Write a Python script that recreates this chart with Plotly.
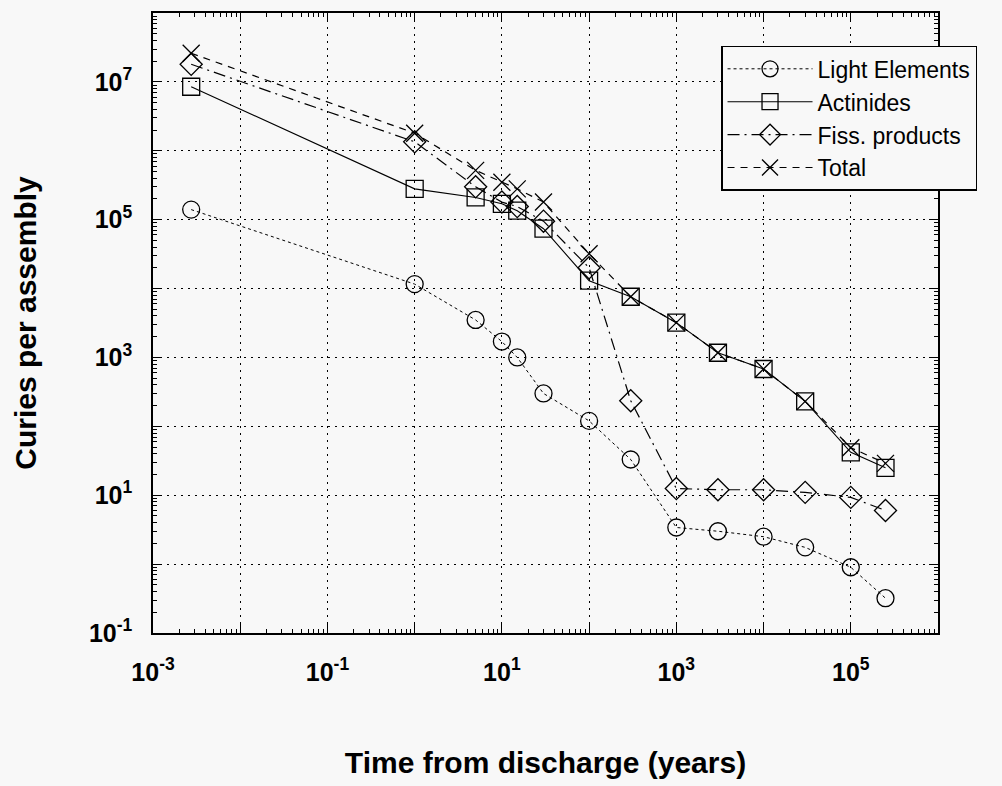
import plotly.graph_objects as go

# Time from discharge (years)
t_early = [0.00274, 1, 5, 10, 15, 30, 100]
t_late = [300, 1000, 3000, 1e4, 3e4, 1e5, 2.5e5]
time_years = t_early + t_late

light_elements = [1.4e5, 1.16e4, 3500, 1700, 1000, 300, 120,
                  33, 3.4, 3.0, 2.5, 1.75, 0.9, 0.32]
actinides = [8.5e6, 2.8e5, 2.1e5, 1.7e5, 1.35e5, 7.4e4, 1.3e4,
             7600, 3200, 1170, 680, 230, 42, 25]
fiss_products = [1.8e7, 1.35e6, 3.0e5, 1.8e5, 1.55e5, 9.5e4, 2.0e4,
                 235, 12.5, 12, 12, 11, 9.3, 6]
total = [2.6e7, 1.8e6, 5.2e5, 3.5e5, 2.8e5, 1.8e5, 3.2e4,
         7600, 3200, 1170, 680, 230, 49, 29]

x_tickvals = [1e-3, 1e-2, 1e-1, 1, 10, 100, 1e3, 1e4, 1e5, 1e6]
x_ticktext = ["10<sup>-3</sup>", "", "10<sup>-1</sup>", "", "10<sup>1</sup>", "",
              "10<sup>3</sup>", "", "10<sup>5</sup>", ""]
y_tickvals = [1e-1, 1, 10, 100, 1e3, 1e4, 1e5, 1e6, 1e7, 1e8]
y_ticktext = ["10<sup>-1</sup>", "", "10<sup>1</sup>", "", "10<sup>3</sup>", "",
              "10<sup>5</sup>", "", "10<sup>7</sup>", ""]

BG = "#f8f8f8"
FONT = "Liberation Sans, Arial, sans-serif"

series = [
    ("Light Elements", light_elements, "circle-open", "dot", 1),
    ("Actinides", actinides, "square-open", "solid", 1.1),
    ("Fiss. products", fiss_products, "diamond-open", "12px,5px,2px,5px", 1.2),
    ("Total", total, "x-thin-open", "7px,6px", 1.2),
]

fig = go.Figure()
for name, vals, sym, dash, lw in series:
    fig.add_trace(go.Scatter(
        x=time_years, y=vals, name=name, mode="lines+markers",
        line=dict(color="black", width=lw, dash=dash),
        marker=dict(symbol=sym, size=17, color="black",
                    line=dict(color="black", width=1.3)),
    ))

axis_common = dict(
    type="log", showline=True, linecolor="black", linewidth=1.5,
    mirror="allticks", ticks="inside", ticklen=9, tickcolor="black",
    tickmode="array", showgrid=True, gridcolor="black", gridwidth=1,
    griddash="2px,5px", zeroline=False,
    tickfont=dict(family=FONT, size=25, color="black", weight="bold"),
    minor=dict(ticks="inside", ticklen=4, tickcolor="black",
               showgrid=False, dtick="D1"),
)

fig.update_xaxes(
    **axis_common, range=[-3, 6], tickvals=x_tickvals, ticktext=x_ticktext,
    ticklabelstandoff=16,
    title=dict(text="Time from discharge (years)", standoff=67,
               font=dict(family=FONT, size=30, color="black", weight="bold")),
)
fig.update_yaxes(
    **axis_common, range=[-1, 8], tickvals=y_tickvals, ticktext=y_ticktext,
    ticklabelstandoff=14,
    title=dict(text="Curies per assembly", standoff=43,
               font=dict(family=FONT, size=30, color="black", weight="bold")),
)

fig.update_layout(
    width=1002, height=786,
    margin=dict(l=153, r=64, t=11, b=153),
    paper_bgcolor=BG, plot_bgcolor=BG,
    font=dict(family=FONT, color="black"),
    legend=dict(
        x=0.7236, y=0.947, xanchor="left", yanchor="top",
        bgcolor=BG, bordercolor="black", borderwidth=1.5,
        font=dict(family=FONT, size=23, color="black"),
        itemwidth=85, tracegroupgap=0,
    ),
    showlegend=True,
)

fig.write_html("out.html")
